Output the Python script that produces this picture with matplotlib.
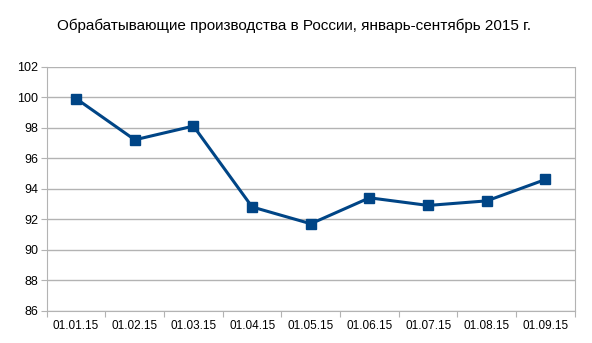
import numpy as np
import matplotlib.pyplot as plt

plt.rcParams['font.family'] = ['Liberation Sans', 'DejaVu Sans']

dates = ['01.01.15', '01.02.15', '01.03.15', '01.04.15', '01.05.15',
         '01.06.15', '01.07.15', '01.08.15', '01.09.15']
values = [99.9, 97.2, 98.1, 92.8, 91.7, 93.4, 92.9, 93.2, 94.6]
y_ticks = [86, 88, 90, 92, 94, 96, 98, 100, 102]

fig = plt.figure(figsize=(5.92, 3.43), dpi=100)
ax = fig.add_axes([0.079, 0.094, 0.892, 0.712])

x = np.arange(len(dates))
ax.plot(x, values, color='#004586', linewidth=2.2, marker='s', markersize=6.5,
        zorder=3)

ax.set_ylim(86, 102)
ax.set_yticks(y_ticks)
ax.set_xlim(-0.5, len(dates) - 0.5)
ax.set_xticks(np.arange(len(dates) + 1) - 0.5)
ax.set_xticklabels([])
ax.set_xticks(x, minor=True)
ax.set_xticklabels(dates, minor=True)
ax.tick_params(axis='x', which='minor', length=0, pad=7, labelsize=8.5)
ax.tick_params(axis='x', which='major', length=4, color='#b3b3b3')
ax.tick_params(axis='y', length=4, color='#b3b3b3', labelsize=9, pad=2)

ax.grid(axis='y', color='#b3b3b3', linewidth=1)
for side in ['left', 'bottom', 'right']:
    ax.spines[side].set_color('#b3b3b3')
ax.spines['top'].set_visible(False)

fig.text(0.497, 0.925, 'Обрабатывающие производства в России, январь-сентябрь 2015 г.',
         ha='center', va='center', fontsize=11)

fig.savefig('out.png', dpi=100)
